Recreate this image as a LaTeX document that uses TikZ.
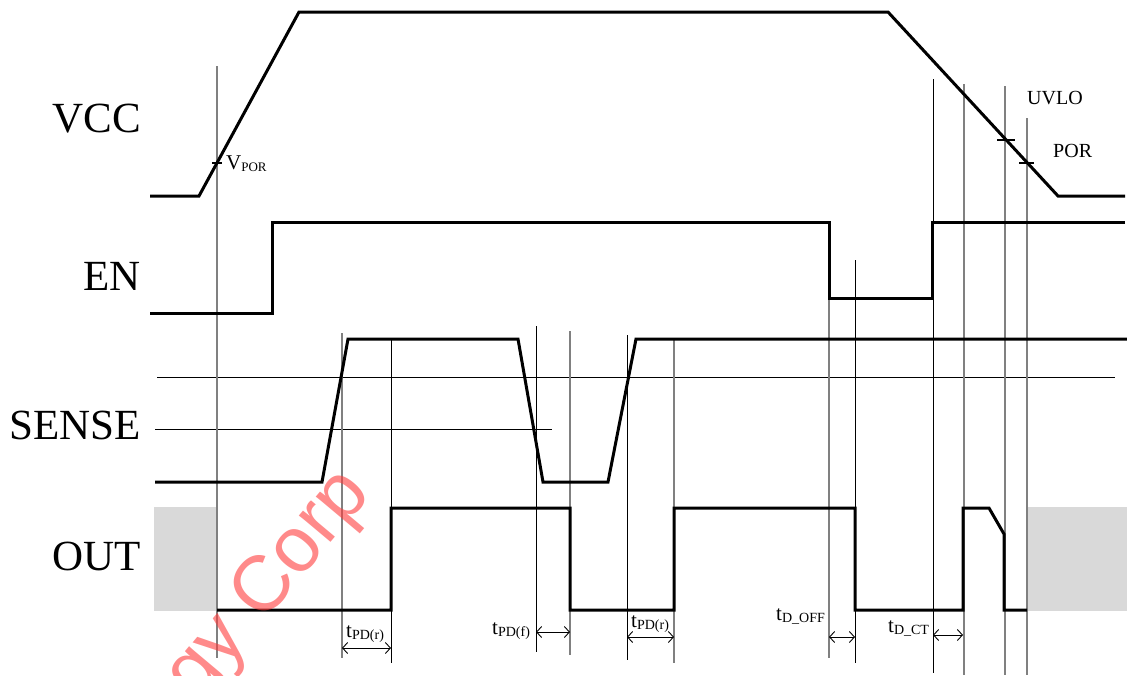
\documentclass[tikz,border=0pt]{standalone}
\usepackage{fontspec}
\setmainfont{Liberation Serif}
\newfontfamily\wmfont{Liberation Sans}
\usetikzlibrary{arrows.meta}
\definecolor{boxgray}{RGB}{217,217,217}
\definecolor{lngray}{RGB}{128,128,128}
\definecolor{wmred}{RGB}{255,60,60}
\begin{document}
\begin{tikzpicture}[x=1pt,y=-1pt,
  wave/.style={line width=3pt,line join=miter,line cap=butt},
  gline/.style={line width=1.3pt,lngray},
  bline/.style={line width=0.9pt,black},
  thr/.style={line width=0.9pt,black},
  sig/.style={font=\fontsize{43}{43}\selectfont,anchor=base east,inner sep=0pt},
  small/.style={font=\fontsize{21}{21}\selectfont,anchor=base west,inner sep=0pt},
  dim/.style={line width=0.9pt,{Straight Barb[length=5pt,width=11pt]}-{Straight Barb[length=5pt,width=11pt]}},
  tick/.style={line width=1.8pt}]
\useasboundingbox (0,0) rectangle (1127,675);
% grey boxes
\fill[boxgray] (154,507) rectangle (217,611);
\fill[boxgray] (1027,507) rectangle (1127,611);
% threshold lines
\draw[thr] (157,377) -- (1115,377);
\draw[thr] (155,429) -- (552,429);
% vertical marker lines
\draw[gline] (217,66) -- (217,658);
\draw[gline] (342,333) -- (342,658);
\draw[bline] (391,339) -- (391,663);
\draw[bline] (536,326) -- (536,652);
\draw[gline] (570,331) -- (570,655);
\draw[bline] (627,335) -- (627,660);
\draw[gline] (674,339) -- (674,663);
\draw[gline] (829,298) -- (829,658);
\draw[bline] (855,260) -- (855,663);
\draw[bline] (933,79) -- (933,673);
\draw[gline] (964,84) -- (964,675);
\draw[gline] (1005,86) -- (1005,675);
\draw[gline] (1027,118) -- (1027,675);
% waveforms
\draw[wave] (150,196) -- (199,196) -- (299,12) -- (888,12) -- (1058,196) -- (1125,196);
\draw[wave] (150,313) -- (272,313) -- (272,222) -- (829,222) -- (829,298) -- (932,298) -- (932,222) -- (1125,222);
\draw[wave] (155,482) -- (322,482) -- (348,339) -- (518,339) -- (543,482) -- (608,482) -- (636,339) -- (1127,339);
\draw[wave] (217,610) -- (391,610) -- (391,508) -- (570,508) -- (570,610) -- (674,610) -- (674,508) -- (855,508) -- (855,610) -- (963,610) -- (963,508) -- (989,508) -- (1004,534) -- (1004,610) -- (1027,610);
% ticks
\draw[tick] (212,163) -- (222,163);
\draw[tick] (997,140) -- (1015,140);
\draw[tick] (1019,163) -- (1034,163);
% signal names
\node[sig] (vcc) at (141,132) {VCC};
\node[sig] (en) at (141,290) {EN};
\node[sig] (sense) at (141,439) {SENSE};
\node[sig] (out) at (141,570) {OUT};
% small labels
\node[small] (vpor) at (226,169) {V\raisebox{-0.3ex}{\fontsize{13}{13}\selectfont POR}};
\node[small,font=\fontsize{20}{20}\selectfont] (uvlo) at (1027,104) {UVLO};
\node[small,font=\fontsize{20}{20}\selectfont] (por) at (1053,157) {POR};
\newcommand{\tlab}[1]{t\raisebox{-0.3ex}{\fontsize{14}{14}\selectfont #1}}
\node[small] (t1) at (346,637) {\tlab{PD(r)}};
\node[small] (t2) at (492,634) {\tlab{PD(f)}};
\node[small] (t3) at (631,627) {\tlab{PD(r)}};
\node[small] (t4) at (776,620) {\tlab{D\_OFF}};
\node[small] (t5) at (888,632) {\tlab{D\_CT}};
% dimension arrows
\coordinate (a1l) at (342,648); \coordinate (a1r) at (391,648);
\coordinate (a2l) at (536,632); \coordinate (a2r) at (570,632);
\coordinate (a3l) at (627,637); \coordinate (a3r) at (674,637);
\coordinate (a4l) at (829,637); \coordinate (a4r) at (855,637);
\coordinate (a5l) at (933,635); \coordinate (a5r) at (963,635);
\draw[dim] (a1l) -- (a1r);
\draw[dim] (a2l) -- (a2r);
\draw[dim] (a3l) -- (a3r);
\draw[dim] (a4l) -- (a4r);
\draw[dim] (a5l) -- (a5r);
% watermark
\begin{scope}
\clip (0,0) rectangle (1127,675);
\node[text=wmred,text opacity=0.6,rotate=50,font=\wmfont\fontsize{78}{78}\selectfont,inner sep=0pt] (wm) at (270,586) {gy Corp};
\end{scope}
\end{tikzpicture}
\end{document}
